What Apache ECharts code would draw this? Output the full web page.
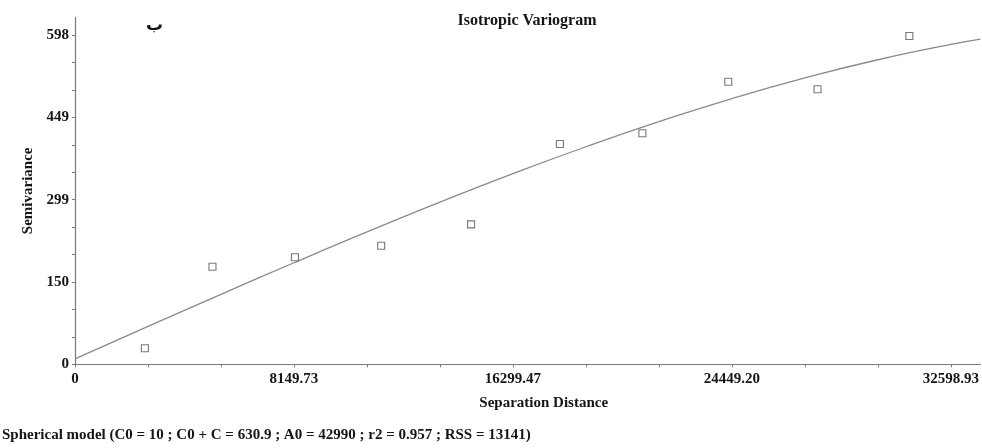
<!DOCTYPE html>
<html>
<head>
<meta charset="utf-8">
<script src="https://cdn.jsdelivr.net/npm/echarts@6/dist/echarts.min.js"></script>
<style>html,body{margin:0;padding:0;background:#fff;}#c{width:982px;height:448px;}</style>
</head>
<body>
<div id="c"></div>
<script>
// Experimental semivariance points (lag distance, semivariance)
const lagDistances = [2601, 5117, 8186, 11396, 14741, 18048, 21117, 24313, 27635, 31053];
const semivariances = [29.1, 177.2, 194.3, 215.4, 254.2, 400.0, 419.5, 513.2, 499.4, 596.2];

// Fitted spherical model curve
const curveX = [0, 2716.58, 5433.15, 8149.73, 10866.31, 13582.89, 16299.47, 19016.04, 21732.62, 24449.20, 27165.78, 29882.35, 32598.93, 33700];
const curveY = [10, 68.8, 127.1, 184.4, 240.4, 294.5, 346.2, 395.1, 440.7, 482.6, 520.2, 553.1, 580.9, 590.5];

// Axis ticks and labels
const xTickValues = [0, 2716.58, 5433.15, 8149.73, 10866.31, 13582.89, 16299.47, 19016.04, 21732.62, 24449.20, 27165.78, 29882.35, 32598.93];
const xLabelValues = [0, 8149.73, 16299.47, 24449.20, 32598.93];
const xLabelTexts = ['0', '8149.73', '16299.47', '24449.20', '32598.93'];
const yTickValues = [0, 49.83, 99.67, 149.5, 199.33, 249.17, 299, 348.83, 398.67, 448.5, 498.33, 548.17, 598];
const yLabelValues = [0, 149.5, 299, 448.5, 598];
const yLabelTexts = ['0', '150', '299', '449', '598'];

const titleText = 'Isotropic Variogram';
const xName = 'Separation Distance';
const yName = 'Semivariance';
const modelText = 'Spherical model (C0 = 10 ; C0 + C = 630.9 ; A0 = 42990 ; r2 = 0.957 ; RSS = 13141)';
const cornerLetter = 'ب';

const serif = '"Liberation Serif", "DejaVu Serif", serif';
const textColor = '#151515';

function labelFor(values, texts, v) {
  for (let i = 0; i < values.length; i++) {
    if (Math.abs(values[i] - v) < 0.01) return texts[i];
  }
  return '';
}

const chart = echarts.init(document.getElementById('c'), null, {renderer: 'canvas'});
chart.setOption({
  animation: false,
  backgroundColor: '#fff',
  title: {
    text: titleText,
    left: 522, top: 8, textAlign: 'center',
    textStyle: {fontFamily: serif, fontWeight: 'bold', fontSize: 16, color: textColor}
  },
  graphic: [
    {type: 'text', left: 2, top: 428,
     style: {text: modelText, fontFamily: serif, fontWeight: 'bold', fontSize: 15, fill: textColor}},
    {type: 'text', left: 146, top: 17,
     style: {text: cornerLetter, fontFamily: '"DejaVu Sans", "Noto Sans", sans-serif', fontWeight: 'bold', fontSize: 17, fill: textColor}}
  ],
  grid: {left: 75, right: 0, top: 17.4, bottom: 83.7, containLabel: false},
  xAxis: {
    type: 'value', min: 0, max: 33700,
    name: xName, nameLocation: 'middle', nameGap: 31,
    nameTextStyle: {fontFamily: serif, fontWeight: 'bold', fontSize: 15, color: textColor, padding: [0, 0, 0, 32]},
    axisLine: {show: true, lineStyle: {color: '#7a7a7a', width: 1.2}},
    axisTick: {show: true, length: 3, customValues: xTickValues, lineStyle: {color: '#7a7a7a'}},
    axisLabel: {
      customValues: xLabelValues, margin: 7,
      fontFamily: serif, fontWeight: 'bold', fontSize: 15, color: textColor,
      formatter: v => labelFor(xLabelValues, xLabelTexts, v)
    },
    splitLine: {show: false}
  },
  yAxis: {
    type: 'value', min: 0, max: 630,
    name: yName, nameLocation: 'middle', nameGap: 33, nameRotate: 90,
    nameTextStyle: {fontFamily: serif, fontWeight: 'bold', fontSize: 15, color: textColor},
    axisLine: {show: true, lineStyle: {color: '#7a7a7a', width: 1.2}},
    axisTick: {show: true, length: 3, customValues: yTickValues, lineStyle: {color: '#7a7a7a'}},
    axisLabel: {
      customValues: yLabelValues, margin: 6,
      fontFamily: serif, fontWeight: 'bold', fontSize: 15, color: textColor,
      formatter: v => labelFor(yLabelValues, yLabelTexts, v)
    },
    splitLine: {show: false}
  },
  series: [
    {
      type: 'line', name: 'model', smooth: true, symbol: 'none',
      data: curveX.map((x, i) => [x, curveY[i]]),
      lineStyle: {color: '#8a8a8a', width: 1.3},
      z: 2
    },
    {
      type: 'scatter', name: 'semivariance', symbol: 'rect', symbolSize: 7,
      data: lagDistances.map((x, i) => [x, semivariances[i]]),
      itemStyle: {color: '#fff', borderColor: '#555', borderWidth: 1.1},
      z: 3
    }
  ]
});
</script>
</body>
</html>
